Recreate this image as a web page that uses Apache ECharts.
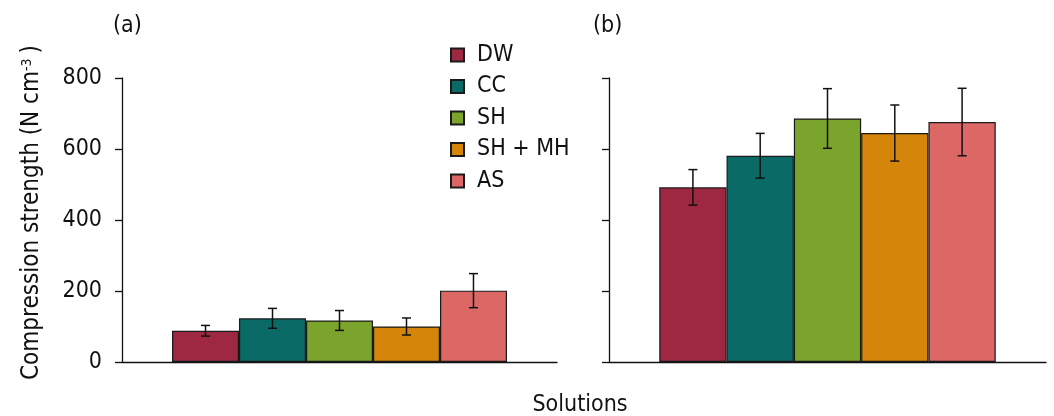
<!DOCTYPE html>
<html>
<head>
<meta charset="utf-8">
<script src="https://cdn.jsdelivr.net/npm/echarts@6/dist/echarts.min.js"></script>
<style>
html,body{margin:0;padding:0;background:#fff;}
#chart{width:1054px;height:416px;}
</style>
</head>
<body>
<div id="chart"></div>
<script>
// ---- data ----
const solutions = ['DW', 'CC', 'SH', 'SH + MH', 'AS'];
const colors = ['#9E2842', '#0A6A66', '#7BA42D', '#D4850A', '#DB6865'];
const panelA = [88, 123, 117, 100, 201];
const errA = [15, 28, 28, 24, 48];
const panelB = [492, 581, 686, 645, 676];
const errB = [50, 63, 84, 79, 95];
const yTicks = [0, 200, 400, 600, 800];
const panelLabels = ['(a)', '(b)'];
const xTitle = 'Solutions';
const yTitle = 'Compression strength (N cm{sup|-3})';

const FONT = '"DejaVu Sans Condensed", "DejaVu Sans", sans-serif';
const GAP = 0.23;
const chart = echarts.init(document.getElementById('chart'));

function errSeries(gridIdx, vals, errs) {
  return {
    type: 'custom',
    xAxisIndex: gridIdx,
    yAxisIndex: gridIdx,
    z: 10,
    silent: true,
    data: vals.map((v, i) => [0, v, errs[i], i]),
    renderItem: function (params, api) {
      const cat = api.value(0), mean = api.value(1), err = api.value(2), idx = api.value(3);
      const band = api.size([1, 0])[0];
      const barW = band * (1 - GAP) / solutions.length;
      const cx = api.coord([cat, 0])[0] + (idx - (solutions.length - 1) / 2) * barW;
      const yt = api.coord([cat, mean + err])[1];
      const yb = api.coord([cat, mean - err])[1];
      const hw = 4.5;
      const st = { stroke: '#111', lineWidth: 1.5 };
      return {
        type: 'group',
        children: [
          { type: 'line', shape: { x1: cx, y1: yt, x2: cx, y2: yb }, style: st },
          { type: 'line', shape: { x1: cx - hw, y1: yt, x2: cx + hw, y2: yt }, style: st },
          { type: 'line', shape: { x1: cx - hw, y1: yb, x2: cx + hw, y2: yb }, style: st }
        ]
      };
    }
  };
}

const series = [];
[panelA, panelB].forEach((vals, g) => {
  solutions.forEach((name, i) => {
    series.push({
      name: name,
      type: 'bar',
      xAxisIndex: g,
      yAxisIndex: g,
      barGap: '0%',
      barCategoryGap: (GAP * 100) + '%',
      data: [vals[i]],
      itemStyle: { color: colors[i], borderColor: '#1a1a1a', borderWidth: 1.2 },
      emphasis: { disabled: true }
    });
  });
});
series.push(errSeries(0, panelA, errA));
series.push(errSeries(1, panelB, errB));

const axisLine = { show: true, lineStyle: { color: '#111', width: 1.3 } };
const txt = { fontFamily: FONT, fontSize: 23, fontWeight: 'normal', color: '#111' };

const option = {
  animation: false,
  backgroundColor: '#fff',
  textStyle: { fontFamily: FONT },
  title: [
    { text: panelLabels[0], left: 108, top: 10, textStyle: txt },
    { text: panelLabels[1], left: 588, top: 10, textStyle: txt },
    { text: xTitle, left: 575, top: 389, textAlign: 'center', textStyle: txt }
  ],
  legend: {
    data: solutions,
    orient: 'vertical',
    left: 445,
    top: 37,
    itemWidth: 13,
    itemHeight: 13,
    itemGap: 5.5,
    icon: 'rect',
    selectedMode: false,
    textStyle: { fontFamily: FONT, fontSize: 23, color: '#111', padding: [0, 0, 0, 8], lineHeight: 26 }
  },
  grid: [
    { left: 122, top: 78, width: 435, height: 284 },
    { left: 609, top: 78, width: 437, height: 284 }
  ],
  xAxis: [0, 1].map(g => ({
    type: 'category',
    gridIndex: g,
    data: [''],
    axisLine: axisLine,
    axisTick: { show: false },
    axisLabel: { show: false },
    splitLine: { show: false }
  })),
  yAxis: [0, 1].map(g => ({
    type: 'value',
    gridIndex: g,
    min: yTicks[0],
    max: yTicks[yTicks.length - 1],
    interval: yTicks[1] - yTicks[0],
    axisLine: axisLine,
    axisTick: { show: true, length: 7, lineStyle: { color: '#111', width: 1.3 } },
    axisLabel: { show: g === 0, fontFamily: FONT, fontSize: 23, color: '#111', margin: 20 },
    splitLine: { show: false },
    name: g === 0 ? yTitle : '',
    nameLocation: 'middle',
    nameRotate: 90,
    nameGap: 78,
    nameTextStyle: {
      fontFamily: FONT, fontSize: 24, color: '#111', padding: [0, 0, 0, 15],
      rich: { sup: { fontFamily: FONT, fontSize: 14, verticalAlign: 'top', color: '#111', padding: [0, 5, 10, 0] } }
    }
  })),
  series: series
};
chart.setOption(option);
</script>
</body>
</html>
